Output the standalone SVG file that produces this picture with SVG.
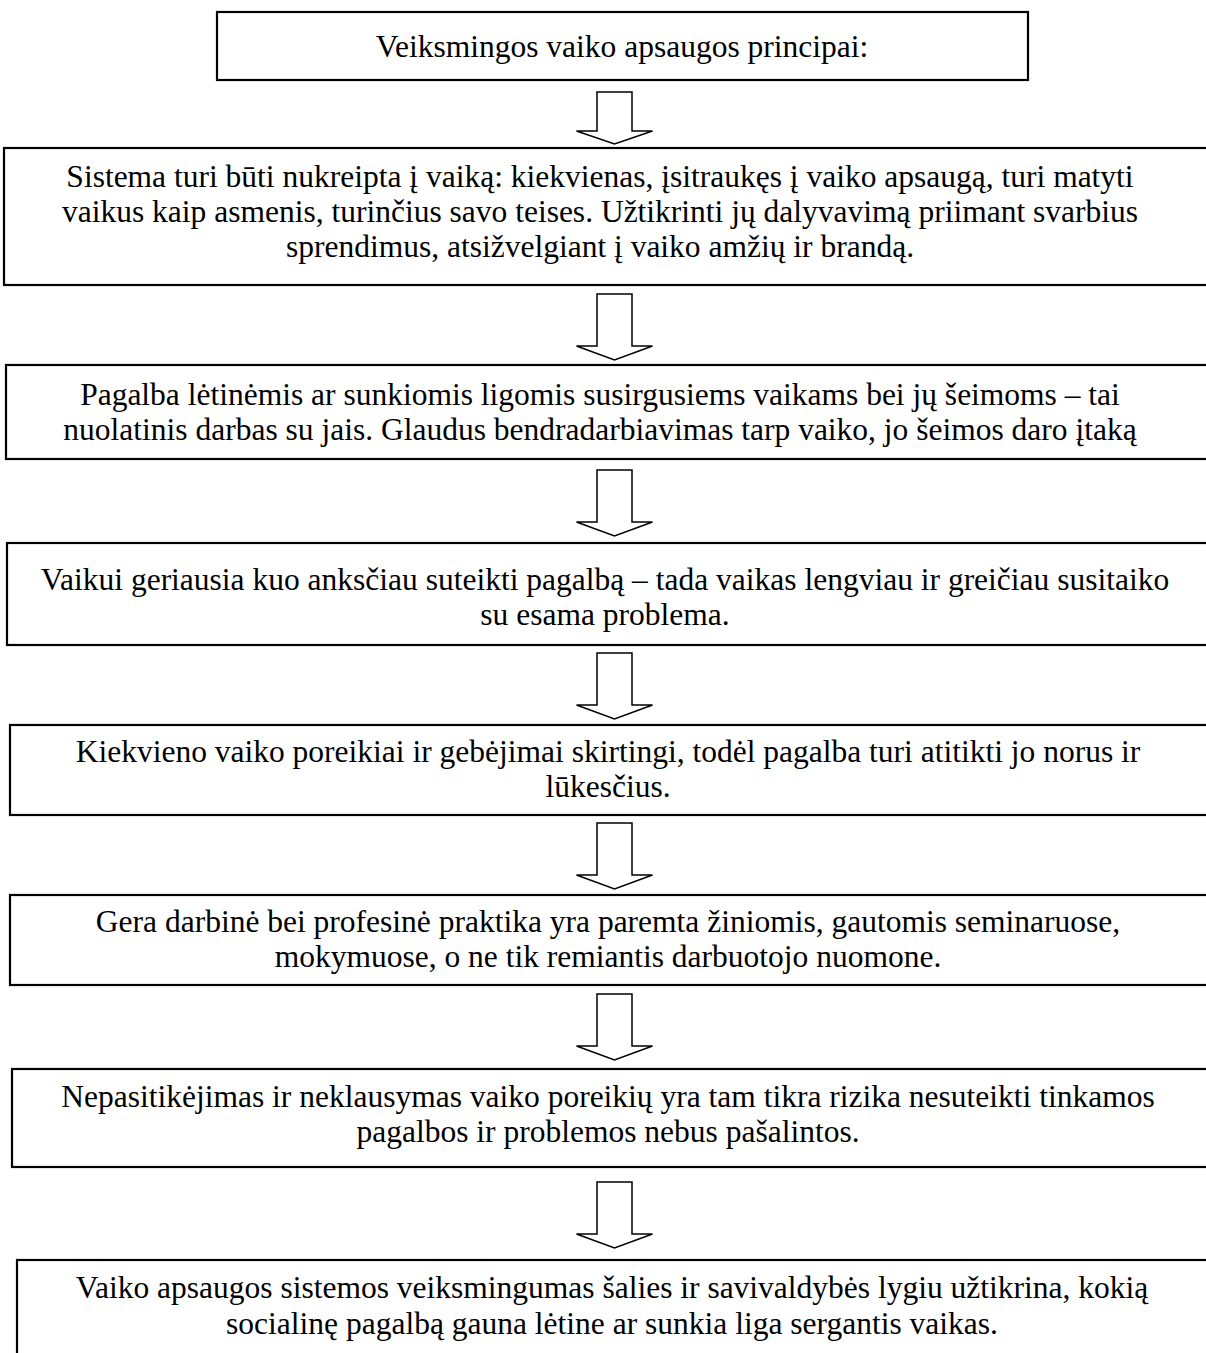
<svg xmlns="http://www.w3.org/2000/svg" width="1206" height="1353" viewBox="0 0 1206 1353">
  <style>
    .box { fill: #fff; stroke: #000; stroke-width: 2.2; }
    .arrow { fill: #fff; stroke: #000; stroke-width: 1.5; stroke-linejoin: miter; }
    text { font-family: "Liberation Serif", "Times New Roman", serif; font-size: 31.5px; fill: #000; text-anchor: middle; }
  </style>
  <defs>
    <!-- hollow block arrow: shaft top at y=0, tip at y=66 -->
    <path id="down" class="arrow" d="M -17.5 0 H 17.5 V 52 H 38 L 0 66 L -38 52 H -17.5 Z"/>
    <path id="down-short" class="arrow" d="M -17.5 0 H 17.5 V 39 H 38 L 0 52 L -38 39 H -17.5 Z"/>
  </defs>
  <rect width="1206" height="1353" fill="#fff"/>

  <g id="connectors">
    <use href="#down-short" x="614.5" y="92"/>
    <use href="#down" x="614.5" y="294"/>
    <use href="#down" x="614.5" y="470"/>
    <use href="#down" x="614.5" y="653"/>
    <use href="#down" x="614.5" y="823"/>
    <use href="#down" x="614.5" y="994"/>
    <use href="#down" x="614.5" y="1182"/>
  </g>

  <g id="n1">
    <rect class="box" x="217" y="12" width="811" height="68"/>
    <text x="622" y="57">Veiksmingos vaiko apsaugos principai:</text>
  </g>
  <g id="n2">
    <rect class="box" x="4" y="148" width="1215" height="137"/>
    <text x="600" y="187">Sistema turi būti nukreipta į vaiką: kiekvienas, įsitraukęs į vaiko apsaugą, turi matyti</text>
    <text x="600" y="222">vaikus kaip asmenis, turinčius savo teises. Užtikrinti jų dalyvavimą priimant svarbius</text>
    <text x="600" y="257">sprendimus, atsižvelgiant į vaiko amžių ir brandą.</text>
  </g>
  <g id="n3">
    <rect class="box" x="6" y="365" width="1215" height="94"/>
    <text x="600" y="405">Pagalba lėtinėmis ar sunkiomis ligomis susirgusiems vaikams bei jų šeimoms – tai</text>
    <text x="600" y="440">nuolatinis darbas su jais. Glaudus bendradarbiavimas tarp vaiko, jo šeimos daro įtaką</text>
  </g>
  <g id="n4">
    <rect class="box" x="7" y="543" width="1215" height="102"/>
    <text x="605" y="590">Vaikui geriausia kuo anksčiau suteikti pagalbą – tada vaikas lengviau ir greičiau susitaiko</text>
    <text x="605" y="625">su esama problema.</text>
  </g>
  <g id="n5">
    <rect class="box" x="10" y="725" width="1209" height="90"/>
    <text x="608" y="762">Kiekvieno vaiko poreikiai ir gebėjimai skirtingi, todėl pagalba turi atitikti jo norus ir</text>
    <text x="608" y="797">lūkesčius.</text>
  </g>
  <g id="n6">
    <rect class="box" x="10" y="895" width="1209" height="90"/>
    <text x="608" y="932">Gera darbinė bei profesinė praktika yra paremta žiniomis, gautomis seminaruose,</text>
    <text x="608" y="967">mokymuose, o ne tik remiantis darbuotojo nuomone.</text>
  </g>
  <g id="n7">
    <rect class="box" x="12" y="1069" width="1209" height="98"/>
    <text x="608" y="1107">Nepasitikėjimas ir neklausymas vaiko poreikių yra tam tikra rizika nesuteikti tinkamos</text>
    <text x="608" y="1142">pagalbos ir problemos nebus pašalintos.</text>
  </g>
  <g id="n8">
    <rect class="box" x="17" y="1260" width="1204" height="120"/>
    <text x="612" y="1298">Vaiko apsaugos sistemos veiksmingumas šalies ir savivaldybės lygiu užtikrina, kokią</text>
    <text x="612" y="1334">socialinę pagalbą gauna lėtine ar sunkia liga sergantis vaikas.</text>
  </g>
</svg>
